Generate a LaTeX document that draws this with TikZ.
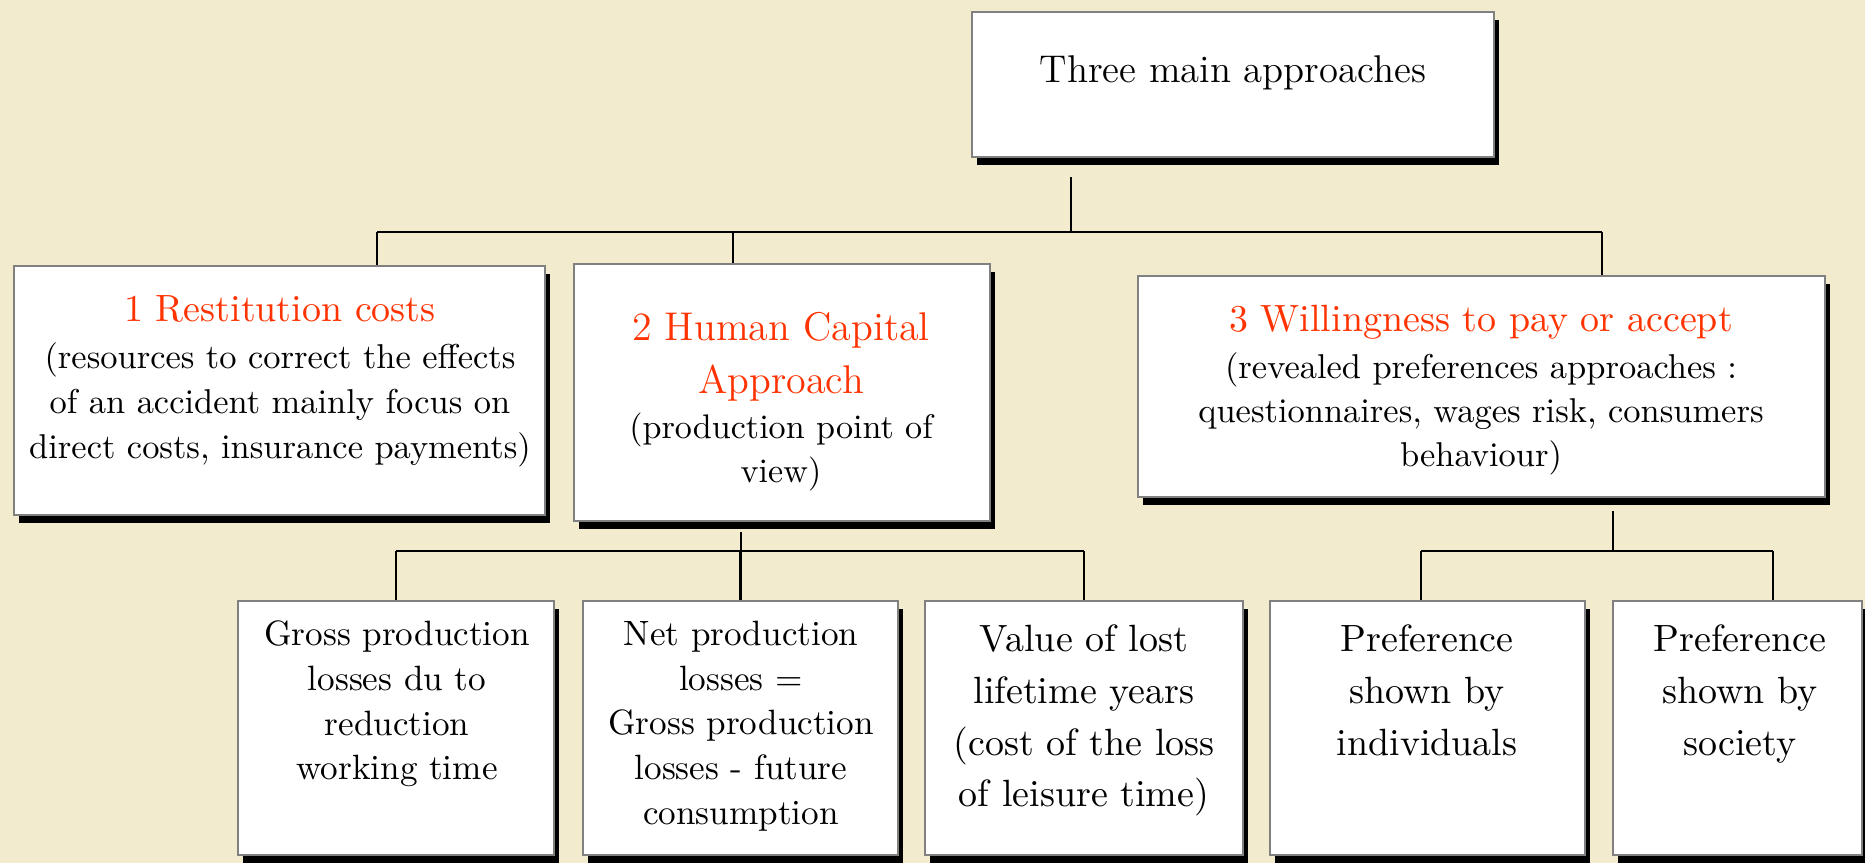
\documentclass[tikz,border=0pt]{standalone}
\usepackage{tikz}
\usetikzlibrary{shadows}
\definecolor{parch}{RGB}{242,235,205}
\definecolor{titlered}{RGB}{255,51,0}
\tikzset{
  box/.style={draw=gray, line width=0.6pt, fill=white, inner sep=0pt,
    drop shadow={shadow xshift=0.05cm, shadow yshift=-0.08cm, fill=black, opacity=1}},
  title/.style={text=titlered, font=\fontsize{10.8}{15}\selectfont, inner sep=0pt, align=center},
  body/.style={font=\fontsize{9.8}{12.8}\selectfont, inner sep=0pt, align=center, anchor=north},
  small/.style={font=\fontsize{10}{12.7}\selectfont, inner sep=0pt, align=center, anchor=north},
  large/.style={font=\fontsize{10.8}{14.7}\selectfont, inner sep=0pt, align=center, anchor=north}
}

\begin{document}
\begin{tikzpicture}[x=0.01cm, y=-0.01cm, line width=0.6pt]
\fill[parch] (0,0) rectangle (1865,863);
\useasboundingbox (0,0) rectangle (1865,863);

\node[box, minimum width=5.22cm, minimum height=1.45cm] (top) at (1233,84.5) {};
\node[font=\fontsize{11}{13}\selectfont, anchor=base, inner sep=0pt] (top-t) at (1233,82) {Three main approaches};

\node[box, minimum width=5.31cm, minimum height=2.49cm] (rc) at (279.5,390.5) {};
\node[box, minimum width=4.16cm, minimum height=2.57cm] (hc) at (782,392.5) {};
\node[box, minimum width=6.87cm, minimum height=2.21cm] (wp) at (1481.5,386.5) {};
\foreach \n/\x/\w in {gp/396/3.16cm, np/740.5/3.15cm, vl/1084/3.18cm, pi/1427.5/3.15cm, ps/1737.5/2.49cm}
  \node[box, minimum width=\w, minimum height=2.54cm] (\n) at (\x,728) {};

\coordinate (j0) at (1071,232);
\coordinate (j1) at (377,232);
\coordinate (j2) at (733,232);
\coordinate (j3) at (1602,232);
\draw[shorten >=0.19cm] (j0) -- (j0 |- top.south);
\draw (j1) -- (j3);
\draw (j1) -- (j1 |- rc.north);
\draw (j2) -- (j2 |- hc.north);
\draw (j3) -- (j3 |- wp.north);

\coordinate (k0) at (741,551);
\coordinate (k1) at (396,551);
\coordinate (k2) at (1084,551);
\draw[shorten >=0.1cm] (k0) -- (k0 |- hc.south);
\draw (k1) -- (k2);
\foreach \n in {gp,np,vl}
  \draw (\n.north) -- (\n.north |- k0);

\coordinate (m0) at (1613,551);
\coordinate (m1) at (1421,551);
\coordinate (m2) at (1773,551);
\draw[shorten >=0.13cm] (m0) -- (m0 |- wp.south);
\draw (m1) -- (m2);
\draw (m1) -- (m1 |- pi.north);
\draw (m2) -- (m2 |- ps.north);

\node[title, anchor=base] (rc-t) at (280,321) {1 Restitution costs};
\node[body] (rc-b) at (280,342) {(resources to correct the effects\\of an accident mainly focus on\\direct costs, insurance payments)};
\node[title, font=\fontsize{11.4}{15}\selectfont, anchor=north] (hc-t) at (781,311) {2 Human Capital\\Approach};
\node[body, font=\fontsize{9.7}{12.5}\selectfont] (hc-b) at (781,412) {(production point of\\view)};
\node[title, anchor=base] (wp-t) at (1481,331) {3 Willingness to pay or accept};
\node[body, font=\fontsize{9.8}{12.5}\selectfont] (wp-b) at (1481,352) {(revealed preferences approaches :\\questionnaires, wages risk, consumers\\behaviour)};

\node[small] (gp-t) at (397,620) {Gross production\\losses du to\\reduction\\working time};
\node[small] (np-t) at (741,620) {Net production\\losses =\\Gross production\\losses - future\\consumption};
\node[large] (vl-t) at (1084,624) {Value of lost\\lifetime years\\(cost of the loss\\of leisure time)};
\node[large] (pi-t) at (1427,624) {Preference\\shown by\\individuals};
\node[large] (ps-t) at (1740,624) {Preference\\shown by\\society};
\end{tikzpicture}
\end{document}
